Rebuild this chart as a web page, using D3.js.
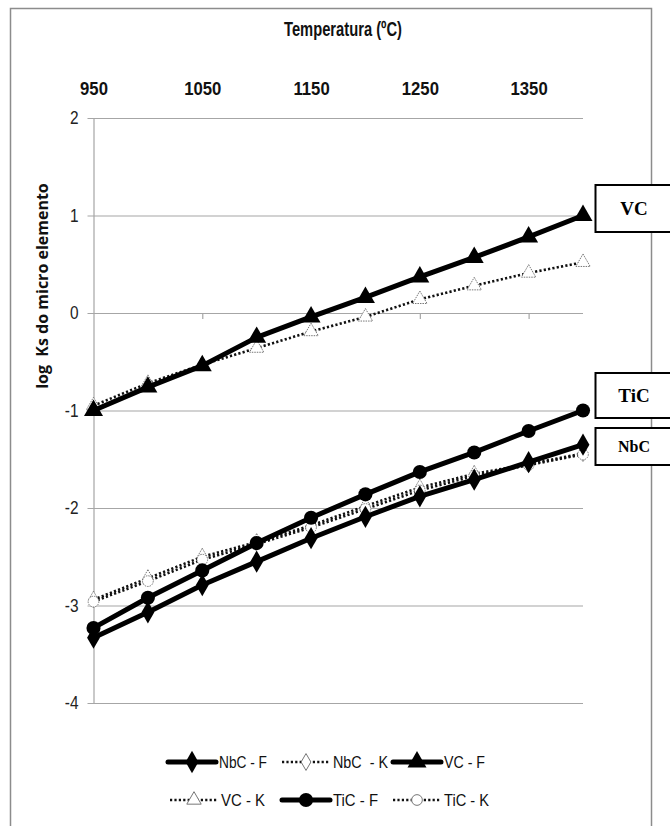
<!DOCTYPE html>
<html><head><meta charset="utf-8">
<script src="https://cdn.jsdelivr.net/npm/d3@7"></script>
<style>
html,body{margin:0;padding:0;background:#fff;}
svg{display:block;}
</style></head>
<body><svg id="c" width="670" height="826"></svg>
<script>
const temps = [950,1000,1050,1100,1150,1200,1250,1300,1350,1400];
const topLabels = [950,1050,1150,1250,1350];
const yTicks = [2,1,0,-1,-2,-3,-4];
const nbcF = [-3.33,-3.07,-2.79,-2.55,-2.31,-2.09,-1.88,-1.71,-1.53,-1.35];
const nbcK = [-2.94,-2.72,-2.50,-2.35,-2.18,-1.98,-1.79,-1.65,-1.55,-1.44];
const vcF  = [-1.00,-0.76,-0.54,-0.25,-0.04,0.16,0.37,0.57,0.78,1.00];
const vcK  = [-0.95,-0.72,-0.53,-0.36,-0.19,-0.04,0.14,0.28,0.41,0.52];
const ticF = [-3.23,-2.92,-2.64,-2.36,-2.10,-1.86,-1.63,-1.43,-1.21,-1.00];
const ticK = [-2.96,-2.75,-2.53,-2.37,-2.20,-2.01,-1.82,-1.67,-1.56,-1.45];
const seriesNames = ["NbC - F","NbC  - K","VC - F","VC - K","TiC - F","TiC - K"];
const compoundLabels = ["VC","TiC","NbC"];

const series = [
  {name:seriesNames[0], vals:nbcF, type:"F", sym:d3.symbolDiamond},
  {name:seriesNames[1], vals:nbcK, type:"K", sym:d3.symbolDiamond},
  {name:seriesNames[2], vals:vcF,  type:"F", sym:d3.symbolTriangle},
  {name:seriesNames[3], vals:vcK,  type:"K", sym:d3.symbolTriangle},
  {name:seriesNames[4], vals:ticF, type:"F", sym:d3.symbolCircle},
  {name:seriesNames[5], vals:ticK, type:"K", sym:d3.symbolCircle}
];

const NAR = "'Liberation Sans',Arial,sans-serif";
function narrow(sel, f){
  sel.each(function(){
    const w = this.getComputedTextLength();
    d3.select(this).attr("textLength", w*f).attr("lengthAdjust","spacingAndGlyphs");
  });
}

const svg = d3.select("#c");
const L=93.5, R=583, T=118, B=703;
const x = d3.scalePoint().domain(temps).range([L,R]);
const y = d3.scaleLinear().domain([-4,2]).range([B,T]);

// outer border
svg.append("rect").attr("x",10.5).attr("y",8.5).attr("width",641).attr("height",830)
  .attr("fill","none").attr("stroke","#8c8c8c").attr("stroke-width",1.5);

// gridlines + y axis
const yAx = d3.axisLeft(y).tickValues(yTicks).tickSize(-(R-L)).tickPadding(15).tickFormat(d=>String(d));
const gy = svg.append("g").attr("transform",`translate(${L},0)`).call(yAx);
gy.select(".domain").attr("stroke","#a6a6a6").attr("stroke-width",1.2);
gy.selectAll(".tick line").attr("stroke","#a6a6a6").attr("stroke-width",1.2).attr("x1",-6);
gy.selectAll(".tick text").attr("font-family",NAR).attr("font-size",17.5).attr("fill","#222").call(narrow,0.88);

// x axis at y=0 (ticks only every 2 categories)
const xAx = d3.axisBottom(x).tickValues(topLabels.slice(1)).tickSize(6).tickFormat("");
const gx = svg.append("g").attr("transform",`translate(0,${y(0)})`).call(xAx);
gx.select(".domain").remove();
gx.selectAll(".tick line").attr("stroke","#a6a6a6").attr("stroke-width",1.2);

// top labels
const xTop = d3.axisTop(x).tickValues(topLabels).tickSize(0).tickPadding(0);
const gt = svg.append("g").attr("transform",`translate(0,95)`).call(xTop);
gt.select(".domain").remove();
gt.selectAll(".tick text").attr("font-family",NAR).attr("font-size",19).attr("font-weight","bold").attr("fill","#111").call(narrow,0.88);

svg.append("text").attr("x",343).attr("y",36).attr("text-anchor","middle")
  .attr("font-family",NAR).attr("font-size",20).attr("font-weight","bold").attr("fill","#111")
  .attr("textLength",118).attr("lengthAdjust","spacingAndGlyphs")
  .text("Temperatura (ºC)");

svg.append("text").attr("transform","translate(48,286) rotate(-90)").attr("text-anchor","middle")
  .attr("font-family","'Open Sans',Arial,sans-serif").attr("font-size",16).attr("font-weight","bold")
  .attr("fill","#111").attr("xml:space","preserve").text("log  Ks do micro elemento");

const line = d3.line().x((d,i)=>x(temps[i])).y(d=>y(d));
const plot = svg.append("g");
function symSize(s){ return s===d3.symbolCircle?120:(s===d3.symbolTriangle?120:110); }
const order = [1,3,5,0,2,4];
order.forEach(k=>{
  const s = series[k];
  if(s.type==="K"){
    plot.append("path").attr("d",line(s.vals)).attr("fill","none").attr("stroke","#111")
      .attr("stroke-width",2.6).attr("stroke-dasharray","2.2,2.2");
    plot.selectAll(null).data(s.vals).join("path")
      .attr("transform",(d,i)=>`translate(${x(temps[i])},${y(d)})`)
      .attr("d",d3.symbol().type(s.sym).size(symSize(s.sym)*0.75))
      .attr("fill","#fff").attr("stroke","#777").attr("stroke-width",1).attr("stroke-dasharray","1.5,1");
  } else {
    plot.append("path").attr("d",line(s.vals)).attr("fill","none").attr("stroke","#000")
      .attr("stroke-width",5).attr("stroke-linejoin","round");
    plot.selectAll(null).data(s.vals).join("path")
      .attr("transform",(d,i)=>`translate(${x(temps[i])},${y(d)})`)
      .attr("d",d3.symbol().type(s.sym).size(symSize(s.sym)*1.3))
      .attr("fill","#000");
  }
});

// compound label boxes
const boxes = [{t:compoundLabels[0],y0:185,y1:232,fs:19},{t:compoundLabels[1],y0:373,y1:418,fs:19},{t:compoundLabels[2],y0:428,y1:465,fs:16}];
boxes.forEach(b=>{
  svg.append("rect").attr("x",595.5).attr("y",b.y0).attr("width",90).attr("height",b.y1-b.y0)
    .attr("fill","#fff").attr("stroke","#000").attr("stroke-width",2);
  svg.append("text").attr("x",634).attr("y",(b.y0+b.y1)/2).attr("dy","0.35em").attr("text-anchor","middle")
    .attr("font-family","'Liberation Serif','Times New Roman',serif").attr("font-weight","bold")
    .attr("font-size",b.fs).text(b.t);
});

// legend
const legPos = [
  {x:168,y:762},{x:282,y:762},{x:393,y:762},
  {x:170,y:800},{x:282,y:800},{x:393,y:800}
];
const legW = [48,55,41,44,45,45];
series.forEach((s,k)=>{
  const p = legPos[k];
  const g = svg.append("g").attr("transform",`translate(${p.x},${p.y})`);
  const w = 48;
  if(s.type==="F"){
    g.append("line").attr("x1",0).attr("x2",w).attr("stroke","#000").attr("stroke-width",5).attr("stroke-linecap","round");
    g.append("path").attr("transform",`translate(${w/2},0)`).attr("d",d3.symbol().type(s.sym).size(symSize(s.sym)*1.3)).attr("fill","#000");
  } else {
    g.append("line").attr("x1",0).attr("x2",w).attr("stroke","#111").attr("stroke-width",2.6).attr("stroke-dasharray","2.2,2.2");
    g.append("path").attr("transform",`translate(${w/2},0)`).attr("d",d3.symbol().type(s.sym).size(symSize(s.sym)*0.75))
      .attr("fill","#fff").attr("stroke","#777").attr("stroke-width",1);
  }
  g.append("text").attr("x",w+3).attr("dy","0.36em").attr("font-family",NAR).attr("font-size",17)
    .attr("fill","#111").attr("xml:space","preserve").attr("textLength",legW[k]).attr("lengthAdjust","spacingAndGlyphs").text(s.name);
});
</script></body></html>
